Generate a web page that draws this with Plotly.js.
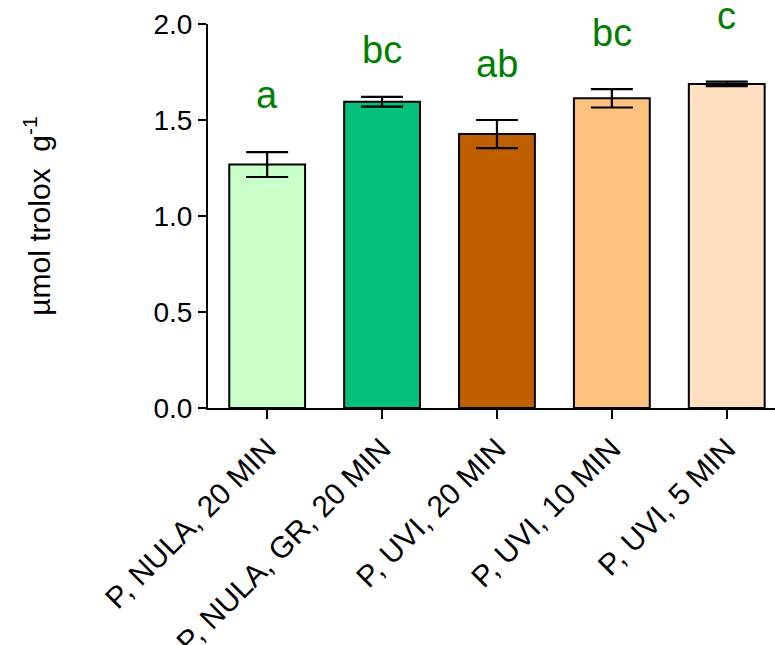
<!DOCTYPE html>
<html>
<head>
<meta charset="utf-8">
<script src="https://cdn.plot.ly/plotly-3.0.1.min.js"></script>
<style>html,body{margin:0;padding:0;background:#fff;}#chart{width:775px;height:645px;}</style>
</head>
<body>
<div id="chart"></div>
<script>
const categories = ["P, NULA, 20 MIN", "P, NULA, GR, 20 MIN", "P, UVI, 20 MIN", "P, UVI, 10 MIN", "P, UVI, 5 MIN"];
const means = [1.268, 1.595, 1.427, 1.613, 1.688];
const errors = [0.065, 0.025, 0.073, 0.048, 0.012];
const barColors = ["#C8FFC8", "#05C07A", "#C05F00", "#FFC180", "#FFE0C0"];
const letters = ["a", "bc", "ab", "bc", "c"];
const letterY = [1.63, 1.865, 1.792, 1.953, 2.042];
const yTickVals = [0, 0.5, 1.0, 1.5, 2.0];
const yTickText = ["0.0", "0.5", "1.0", "1.5", "2.0"];
const yMax = 2.0;

const FONT = "Liberation Sans, Arial, sans-serif";

const trace = {
  type: "bar",
  x: categories,
  y: means,
  width: 0.66,
  marker: { color: barColors, line: { color: "#000", width: 2 } },
  error_y: { type: "data", array: errors, visible: true, color: "#000", thickness: 2.2, width: 21 },
  hoverinfo: "none"
};

const annotations = letters.map((t, i) => ({
  x: categories[i], y: letterY[i] / yMax, xref: "x", yref: "paper",
  text: t, showarrow: false, yanchor: "middle",
  font: { family: FONT, size: 38, color: "#008000" }
}));

const layout = {
  width: 775, height: 645,
  margin: { l: 208, r: 0, t: 24, b: 237 },
  paper_bgcolor: "#fff", plot_bgcolor: "#fff",
  showlegend: false,
  font: { family: FONT, color: "#000" },
  xaxis: {
    type: "category",
    range: [-0.515, 4.42],
    showline: true, linecolor: "#000", linewidth: 2,
    ticks: "outside", ticklen: 9, tickwidth: 2, tickcolor: "#000",
    tickangle: -45,
    tickfont: { family: FONT, size: 30, color: "#000" },
    showgrid: false, zeroline: false
  },
  yaxis: {
    range: [0, yMax],
    tickvals: yTickVals, ticktext: yTickText,
    showline: true, linecolor: "#000", linewidth: 2,
    ticks: "outside", ticklen: 8, tickwidth: 2, tickcolor: "#000",
    tickfont: { family: FONT, size: 28, color: "#000" },
    showgrid: false, zeroline: false,
    title: { text: "µmol trolox  g<sup>-1</sup>", font: { family: FONT, size: 30, color: "#000" }, standoff: 94 }
  },
  annotations: annotations
};

Plotly.newPlot("chart", [trace], layout, { displayModeBar: false, staticPlot: true });
</script>
</body>
</html>
